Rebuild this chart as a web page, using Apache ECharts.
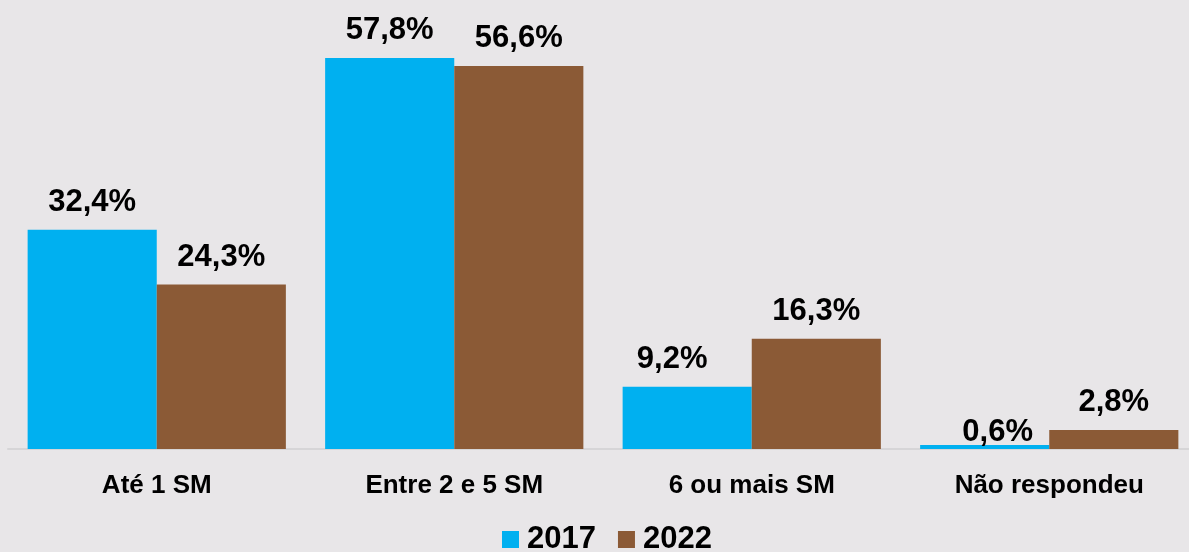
<!DOCTYPE html>
<html>
<head>
<meta charset="utf-8">
<script src="https://cdn.jsdelivr.net/npm/echarts@6/dist/echarts.min.js"></script>
<style>
html,body{margin:0;padding:0;background:#E8E6E8;}
#main{width:1189px;height:552px;}
</style>
</head>
<body>
<div id="main"></div>
<script>
var categories=['Até 1 SM','Entre 2 e 5 SM','6 ou mais SM','Não respondeu'];
var seriesNames=['2017','2022'];
var values2017=[32.4,57.8,9.2,0.6];
var values2022=[24.3,56.6,16.3,2.8];

var myChart=echarts.init(document.getElementById('main'));
var font='"Liberation Sans", Arial, sans-serif';

// small manual nudges of two labels, as in the original
var offsets2017=[[0,0],[0,0],[-15,0],[13,15]];

function fmt(p){return p.value.toFixed(1).replace('.',',')+'%';}

function makeData(vals,offs){
  return vals.map(function(v,i){
    var o=offs?offs[i]:[0,0];
    return {value:v,label:{offset:o}};
  });
}

var labelStyle={
  show:true,position:'top',distance:12,
  formatter:fmt,
  fontFamily:font,fontWeight:'bold',fontSize:31,color:'#000'
};

var option={
  backgroundColor:'#E8E6E8',
  animation:false,
  legend:{
    left:497,top:519,
    itemWidth:17,itemHeight:17,itemGap:22,
    icon:'rect',
    textStyle:{fontFamily:font,fontWeight:'bold',fontSize:31,color:'#000',padding:[0,0,0,3]},
    data:seriesNames
  },
  grid:{left:8,right:-9,top:43,bottom:103,outerBoundsMode:'none',containLabel:false},
  xAxis:{
    type:'category',
    data:categories,
    axisLine:{lineStyle:{color:'#D6D5D7',width:2}},
    axisTick:{show:false},
    axisLabel:{margin:24,fontFamily:font,fontWeight:'bold',fontSize:26,color:'#000'}
  },
  yAxis:{type:'value',min:0,max:60,show:false,splitLine:{show:false}},
  series:[
    {name:seriesNames[0],type:'bar',barGap:0,barCategoryGap:'13.2%',
     itemStyle:{color:'#00B0F0'},label:labelStyle,data:makeData(values2017,offsets2017)},
    {name:seriesNames[1],type:'bar',
     itemStyle:{color:'#8B5A36'},label:labelStyle,data:makeData(values2022)}
  ]
};

myChart.setOption(option);
</script>
</body>
</html>
